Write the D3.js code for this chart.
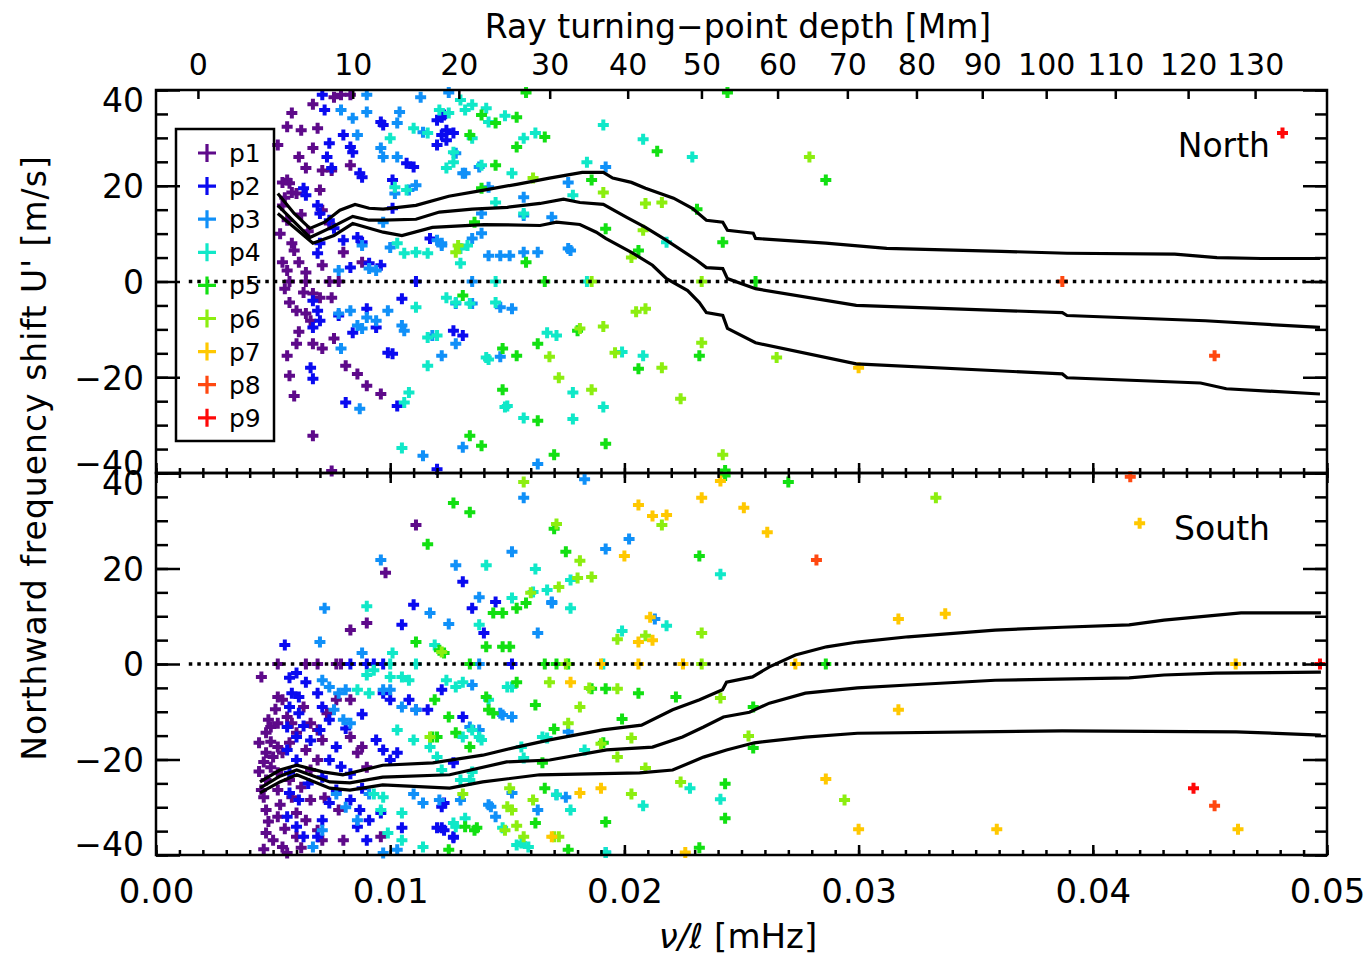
<!DOCTYPE html>
<html>
<head>
<meta charset="utf-8">
<title>Northward frequency shift</title>
<script src="https://d3js.org/d3.v7.min.js"></script>
<style>
  body { margin: 0; background: #fff; }
  text { font-family: "DejaVu Sans", sans-serif; fill: #000; }
</style>
</head>
<body>
<svg id="chart" width="1365" height="957"></svg>
<script>
// mode names and colours (IDL rainbow-ish)
var modes = ["p1", "p2", "p3", "p4", "p5", "p6", "p7", "p8", "p9"];
var modeColors = ["#5e0a8a", "#0a0af0", "#1090f8", "#10e8c8", "#12e012", "#8cee10", "#ffc800", "#ff4810", "#ff0808"];

// bottom axis (nu/l in mHz) and y axis ticks
var nuMajor = [0, 0.01, 0.02, 0.03, 0.04, 0.05];
var uMajor = [-40, -20, 0, 20, 40];

// top axis: turning-point depth labels and where they sit on nu/l
var depthTicks = [0, 10, 20, 30, 40, 50, 60, 70, 80, 90, 100, 110, 120, 130];
var depthTickNuL = [0.00179, 0.00840, 0.01293, 0.01681, 0.02014, 0.02329, 0.02654, 0.02952, 0.03247, 0.03528, 0.03801, 0.04096, 0.04407, 0.04693];

// ---------- North points [nu/l, U'] ----------
var northP1 = [[0.0079,39],[0.0083,39],[0.0076,38.5],[0.0067,37],[0.0058,35.2],[0.0056,32.3],[0.0062,31.6],[0.0069,32],[0.0052,28.5],[0.0067,27.9],[0.0061,26],[0.0064,23.7],[0.0071,23.2],[0.0075,23.2],[0.0083,24.3],[0.0056,21.2],[0.0057,20.5],[0.0054,20.7],[0.0058,18.6],[0.0060,18.4],[0.0070,19.1],[0.0054,15.9],[0.0071,14.9],[0.0074,12.1],[0.0056,12.8],[0.0058,8],[0.0054,4],[0.0056,2.3],[0.0061,4],[0.0064,1.9],[0.0071,3.4],[0.0080,6.1],[0.0088,4],[0.0057,0],[0.0064,0],[0.0074,0],[0.0078,0],[0.0063,-2.3],[0.0067,-2.5],[0.0070,-3.4],[0.0075,-3.4],[0.0057,-4.4],[0.0060,-6.1],[0.0064,-6.7],[0.0066,-8.2],[0.0076,-11.9],[0.0060,-13],[0.0067,-13],[0.0071,-14],[0.0056,-15.5],[0.0057,-19.7],[0.0081,-17.6],[0.0086,-19.3],[0.0090,-21.8],[0.0096,-23.5],[0.0059,-23.9],[0.0067,-32.2],[0.0075,-39.6],[0.0055,17.5],[0.0053,10],[0.0059,6.5],[0.0062,14],[0.0065,10.5],[0.0055,-1.5],[0.0061,-10.5]];
var northP2 = [[0.0071,39],[0.0072,35.8],[0.0063,19.5],[0.0064,18],[0.0074,28.9],[0.0073,26],[0.0075,23.7],[0.0080,30.6],[0.0083,28.1],[0.0084,27],[0.0087,22.6],[0.0088,21.8],[0.0096,33.3],[0.0097,32.7],[0.0101,21.2],[0.0101,15.3],[0.0107,24.7],[0.0110,23.9],[0.0120,33.7],[0.0122,34.3],[0.0124,31.6],[0.0127,31],[0.0120,28.5],[0.0069,15.9],[0.0070,14.2],[0.0074,12.8],[0.0076,11.1],[0.0070,8],[0.0069,5.9],[0.0080,8.6],[0.0083,2.9],[0.0086,9.2],[0.0088,8.2],[0.0091,3.8],[0.0096,3.4],[0.0067,-4],[0.0069,-6.1],[0.0070,-8.2],[0.0067,-9.6],[0.0078,-7.1],[0.0084,-10.7],[0.0090,-5.7],[0.0094,-9.6],[0.0105,-3.6],[0.0099,-14.9],[0.0101,-15.1],[0.0066,-18],[0.0067,-20.3],[0.0081,-25.3],[0.0103,-26],[0.0127,-10.3],[0.0131,-11.3],[0.0111,0],[0.0120,-39.2],[0.0117,9],[0.0123,34.8],[0.0122,30.6],[0.0124,29.5]];
var northP3 = [[0.0079,35.8],[0.0090,39],[0.0090,35.4],[0.0084,34.1],[0.0086,30.6],[0.0103,33.1],[0.0104,35.4],[0.0113,38.5],[0.0114,31.2],[0.0125,39.5],[0.0096,27.9],[0.0097,26],[0.0103,26],[0.0102,18.4],[0.0108,19.1],[0.0111,20.1],[0.0128,26.8],[0.0131,22.6],[0.0097,12.4],[0.0100,7.1],[0.0088,7.5],[0.0091,2.7],[0.0094,2.3],[0.0078,2.3],[0.0120,8.6],[0.0122,8],[0.0142,5.4],[0.0147,5.4],[0.0151,5.4],[0.0157,6.1],[0.0163,6.1],[0.0139,14.2],[0.0157,13.8],[0.0169,13.4],[0.0177,6.5],[0.0078,-6.7],[0.0083,-6.1],[0.0086,-9.2],[0.0088,-9.8],[0.0090,-7.5],[0.0094,-8.2],[0.0099,-6.1],[0.0105,-9.2],[0.0106,-10.3],[0.0079,-14],[0.0118,-11.3],[0.0122,-15.5],[0.0128,-13],[0.0147,-5.4],[0.0152,-5.7],[0.0147,-15.7],[0.0087,-26.6],[0.0114,-36.4],[0.0131,-34.6],[0.0132,22.6],[0.0138,23.9],[0.0142,19.7],[0.0157,17.6],[0.0176,20.7],[0.0192,23.9],[0.0135,9],[0.0139,10.1],[0.0122,7.5],[0.0176,6.9],[0.0128,-4.6],[0.0135,-4.6],[0.0163,-38.1],[0.0135,0]];
var northP4 = [[0.0100,29.9],[0.0110,32],[0.0116,31],[0.0121,35.8],[0.0125,35.2],[0.0130,37.9],[0.0135,36.9],[0.0124,23.7],[0.0127,24.9],[0.0127,27],[0.0103,8],[0.0106,5.9],[0.0102,19.7],[0.0107,19.1],[0.0111,6.1],[0.0116,5.9],[0.0130,6.9],[0.0133,7.5],[0.0130,3.8],[0.0124,-3.4],[0.0128,-4.4],[0.0134,-4.6],[0.0111,-5.4],[0.0145,-4.4],[0.0139,24.3],[0.0152,22.6],[0.0167,-10.7],[0.0171,-11.3],[0.0178,-23.2],[0.0178,-28.7],[0.0116,-11.7],[0.0120,-11.3],[0.0141,-15.9],[0.0116,-17.6],[0.0150,-26],[0.0157,-28.5],[0.0105,-34.8],[0.0108,-23.2],[0.0106,-25.3],[0.0184,24.9],[0.0178,18],[0.0132,35.8],[0.0141,36.2],[0.0142,33.3],[0.0149,34.6],[0.0135,29.9],[0.0157,29.9],[0.0162,31],[0.0191,32.7],[0.0208,29.7],[0.0229,26],[0.0145,16.5],[0.0157,14.2],[0.0142,-16.3],[0.0199,-14.7],[0.0208,-15.5],[0.0191,-26.2],[0.0149,-26.2],[0.0218,8.2],[0.0184,0],[0.0145,0]];
var northP5 = [[0.0158,39.5],[0.0139,34.8],[0.0145,33.1],[0.0154,34.3],[0.0134,30.6],[0.0145,24.3],[0.0166,30.2],[0.0154,28.1],[0.0139,19.5],[0.0186,21.2],[0.0158,4],[0.0131,-2.9],[0.0180,-10.3],[0.0163,-13],[0.0148,-14],[0.0154,-15.5],[0.0148,-22.6],[0.0134,-32.2],[0.0139,-34.3],[0.0163,-29.1],[0.0170,-36.2],[0.0214,27.2],[0.0192,11],[0.0206,6.5],[0.0242,8.2],[0.0231,15.1],[0.0232,-15.5],[0.0206,-18.2],[0.0192,-33.9],[0.0244,39.5],[0.0243,-39.5],[0.0166,0],[0.0256,0],[0.0286,21.2],[0.0136,12.4]];
var northP6 = [[0.0161,21.6],[0.0128,6.1],[0.0168,-15.7],[0.0172,-20.1],[0.0186,-22.6],[0.0191,18.6],[0.0209,16.3],[0.0216,16.5],[0.0129,7.5],[0.0203,5],[0.0209,-5.7],[0.0205,-6.3],[0.0191,-9.4],[0.0233,-12.8],[0.0196,-14.9],[0.0216,-18],[0.0224,-24.5],[0.0242,-36.2],[0.0186,0],[0.0233,0],[0.0208,10.7],[0.0279,26],[0.0265,-15.9],[0.0181,-9.8]];
var northP7 = [[0.0300,-18]];
var northP8 = [[0.0387,0],[0.0452,-15.5]];
var northP9 = [[0.0481,31]];

// ---------- South points [nu/l, U'] ----------
var southP1 = [[0.0111,29.1],[0.0098,19.1],[0.0090,8.6],[0.0083,7.1],[0.0045,-2.7],[0.0052,0],[0.0064,0],[0.0069,0],[0.0077,0],[0.0079,0],[0.0052,-6.9],[0.0054,-7.5],[0.0063,-9],[0.0048,-11.7],[0.0049,-13.2],[0.0052,-12.4],[0.0047,-14.4],[0.0049,-16.3],[0.0052,-17.4],[0.0047,-18.6],[0.0046,-20.5],[0.0049,-21.6],[0.0052,-22.8],[0.0047,-24.3],[0.0045,-26.4],[0.0046,-27.9],[0.0056,-11.1],[0.0058,-12.4],[0.0060,-14.4],[0.0057,-16.5],[0.0054,-18.6],[0.0066,-12.4],[0.0069,-13.8],[0.0071,-15.9],[0.0064,-18],[0.0069,-20.1],[0.0066,-22.2],[0.0047,-30.6],[0.0052,-32],[0.0047,-35.4],[0.0050,-36.9],[0.0054,-38.3],[0.0056,-39.6],[0.0060,-31.2],[0.0064,-32.7],[0.0060,-36.2],[0.0069,-34.8],[0.0071,-36.9],[0.0078,-30.6],[0.0080,-36.9],[0.0083,-15.3],[0.0088,-17.4],[0.0086,-18.6],[0.0090,-21.6],[0.0077,-7.5],[0.0083,-7.5],[0.0096,-36.2],[0.0052,-26.4],[0.0058,-27.9],[0.0057,-24.3],[0.0062,-25.8],[0.0073,-10.3],[0.0044,-22.5],[0.0050,-19.5],[0.0053,-29.5],[0.0048,-33],[0.0055,-34.5],[0.0062,-38.5],[0.0044,-16.5],[0.0051,-9.5],[0.0066,-28.5],[0.0072,-28],[0.0046,-38.8]];
var southP2 = [[0.0055,4],[0.0110,12.4],[0.0105,8.2],[0.0131,17.2],[0.0135,11.7],[0.0140,6.5],[0.0145,13],[0.0057,-2.9],[0.0060,-1.9],[0.0064,-3.8],[0.0058,-6.1],[0.0061,-6.9],[0.0057,-9],[0.0061,-10.3],[0.0056,-13.2],[0.0060,-15.3],[0.0056,-18],[0.0060,-20.1],[0.0057,-22.8],[0.0057,-27],[0.0061,-28.5],[0.0056,-32],[0.0060,-34.1],[0.0063,-36.2],[0.0069,-6.1],[0.0071,-9],[0.0074,-11.7],[0.0070,-13.8],[0.0077,-17.4],[0.0074,-20.1],[0.0071,-23.7],[0.0077,-26.4],[0.0074,-29.1],[0.0071,-32.7],[0.0069,-36.2],[0.0083,-28.5],[0.0087,-30.6],[0.0086,-34.1],[0.0090,-36.9],[0.0094,-15.9],[0.0097,-18],[0.0100,-20.1],[0.0103,-18.6],[0.0097,-6.1],[0.0100,-7.5],[0.0108,-7.5],[0.0111,-9.6],[0.0116,-9.6],[0.0105,-34.3],[0.0120,-34.3],[0.0122,-34.3],[0.0127,-36.2],[0.0122,-29.9],[0.0088,-26],[0.0096,-31.2],[0.0091,-32.7],[0.0122,-5.4],[0.0083,0],[0.0090,0],[0.0093,0],[0.0097,0],[0.0152,0],[0.0131,-11.1],[0.0127,-20.7],[0.0123,-29.1],[0.0123,-34.8],[0.0127,-36.4],[0.0063,-13],[0.0066,-16],[0.0079,-21.5],[0.0083,-23],[0.0065,-25],[0.0081,-13.5],[0.0088,-10.5]];
var southP3 = [[0.0096,21.8],[0.0072,11.7],[0.0070,4.6],[0.0088,2.3],[0.0128,20.7],[0.0117,10.7],[0.0125,8.4],[0.0138,14],[0.0152,23.5],[0.0169,13],[0.0163,6.5],[0.0157,34.8],[0.0183,38.7],[0.0148,-10.7],[0.0152,-11.1],[0.0071,-3.4],[0.0074,-4.8],[0.0078,-6.1],[0.0081,-5.4],[0.0076,-9.6],[0.0080,-11.7],[0.0083,-12.4],[0.0097,-5.4],[0.0100,-5.4],[0.0105,-9],[0.0111,-9.6],[0.0134,-13.2],[0.0138,-13.8],[0.0130,-28.5],[0.0143,-29.9],[0.0145,-32],[0.0121,-28.5],[0.0175,-27.9],[0.0171,-27.4],[0.0097,-39.6],[0.0103,-38.9],[0.0077,-27.2],[0.0081,-30],[0.0086,-32.7],[0.0091,-27.2],[0.0110,-27.2],[0.0114,-29.1],[0.0067,-38.3],[0.0071,-34.8],[0.0192,24.1],[0.0202,26.2],[0.0213,9.4],[0.0135,-4.4],[0.0147,-10.3],[0.0176,-14.2],[0.0152,-27],[0.0142,-29.5],[0.0163,-30.6],[0.0192,-39.5],[0.0169,12.8],[0.0138,0]];
var southP4 = [[0.0090,12.1],[0.0101,2.3],[0.0141,20.7],[0.0162,19.9],[0.0152,13.8],[0.0161,15.1],[0.0167,15.5],[0.0177,11.7],[0.0138,8.2],[0.0119,4],[0.0090,-2.3],[0.0093,-1.3],[0.0100,-2.7],[0.0105,-2.7],[0.0108,-3.4],[0.0086,-5.4],[0.0091,-6.1],[0.0124,-3.4],[0.0128,-4.8],[0.0131,-3.8],[0.0150,-4.8],[0.0152,-4.8],[0.0103,-13.8],[0.0110,-15.9],[0.0117,-17.4],[0.0120,-19.5],[0.0122,-22.2],[0.0131,-15.3],[0.0138,-15.3],[0.0139,-15.9],[0.0130,-24.3],[0.0134,-24.3],[0.0156,-17.4],[0.0165,-15.3],[0.0093,-27.2],[0.0097,-27.9],[0.0096,-30.6],[0.0099,-35.4],[0.0105,-31.2],[0.0105,-36.9],[0.0114,-38.3],[0.0128,-34.1],[0.0148,-34.3],[0.0156,-37.5],[0.0159,-38.3],[0.0177,-30.6],[0.0100,0],[0.0111,0],[0.0177,17.6],[0.0199,6.9],[0.0218,8],[0.0241,18.8],[0.0142,-7.5],[0.0135,-13.8],[0.0167,-15.5],[0.0183,-18],[0.0157,-19.7],[0.0135,-22.6],[0.0171,-27.4],[0.0208,-29.7],[0.0228,-26],[0.0241,-28.3],[0.0132,-32.3],[0.0154,-37.9],[0.0127,-33.3],[0.0191,0],[0.0192,-39.5]];
var southP5 = [[0.0127,33.7],[0.0134,31.8],[0.0116,25.1],[0.0175,23.5],[0.0111,4.6],[0.0121,2.9],[0.0123,2.3],[0.0144,10.7],[0.0148,10.7],[0.0154,11.7],[0.0158,12.8],[0.0141,3.6],[0.0148,3.6],[0.0151,3.6],[0.0141,-6.9],[0.0142,-9.6],[0.0144,-10.3],[0.0119,-7.5],[0.0125,-11.1],[0.0128,-14.4],[0.0118,-15.3],[0.0120,-15.3],[0.0154,-3.8],[0.0162,-8.6],[0.0170,-13.6],[0.0166,-26],[0.0162,-33.3],[0.0132,-34.1],[0.0137,-34.3],[0.0136,-34.8],[0.0176,-38.9],[0.0134,0],[0.0166,0],[0.0171,0],[0.0176,0],[0.0134,-17.4],[0.0165,-20.7],[0.0125,-38.9],[0.0170,28.3],[0.0232,22.6],[0.0186,-5.2],[0.0192,-5.2],[0.0206,-6.1],[0.0222,-6.9],[0.0255,-9],[0.0199,-11.5],[0.0255,-17.6],[0.0243,-25.1],[0.0192,-33.1],[0.0243,-32.3],[0.0232,-38.5],[0.0243,39.5],[0.0270,38.1],[0.0286,0],[0.0191,-16.5]];
var southP6 = [[0.0157,38.1],[0.0171,29.3],[0.0181,21.6],[0.0186,18.2],[0.0180,18],[0.0172,16.1],[0.0160,14.9],[0.0122,2.5],[0.0168,-3.8],[0.0181,-9],[0.0185,-5],[0.0176,-12.4],[0.0117,-15.3],[0.0151,-26],[0.0150,-29.9],[0.0152,-30.6],[0.0157,-36.2],[0.0170,-36.2],[0.0154,-33.9],[0.0149,-34.8],[0.0131,-27.2],[0.0175,0],[0.0233,0],[0.0216,29.1],[0.0209,5.9],[0.0197,5.2],[0.0197,-5.2],[0.0233,6.5],[0.0241,-7.1],[0.0253,-15.1],[0.0197,-19.5],[0.0209,-21.8],[0.0224,-24.7],[0.0203,-27.2],[0.0161,-28.5],[0.0172,-36.2],[0.0333,34.8],[0.0294,-28.5],[0.0203,-15.5],[0.0190,-16.7]];
var southP7 = [[0.0206,33.3],[0.0212,31],[0.0218,31.2],[0.0233,34.8],[0.0251,32.7],[0.0241,38.3],[0.0261,27.6],[0.0200,22.6],[0.0211,9.8],[0.0206,4.6],[0.0212,5],[0.0190,0],[0.0206,0],[0.0225,0],[0.0273,0],[0.0461,0],[0.0177,-3.8],[0.0190,-26],[0.0181,-27],[0.0169,-36.2],[0.0226,-39.5],[0.0317,9.4],[0.0337,10.5],[0.0420,29.5],[0.0317,-9.6],[0.0286,-24.1],[0.0300,-34.6],[0.0359,-34.6],[0.0462,-34.6]];
var southP8 = [[0.0416,39.2],[0.0282,21.8],[0.0452,-29.7]];
var southP9 = [[0.0443,-26],[0.0497,0]];

// ---------- running curves [nu/l, U'] ----------
var northUpper = [[0.0052,18.4],[0.0059,14.2],[0.00657,11.1],[0.0072,12.4],[0.00785,14.9],[0.0085,16.1],[0.0091,15.3],[0.0097,15.1],[0.0111,15.9],[0.0125,17.8],[0.0140,19.1],[0.0154,20.3],[0.0168,21.6],[0.0182,22.8],[0.0191,22.8],[0.0195,21.6],[0.0203,20.7],[0.0209,19.5],[0.0221,17.4],[0.0229,15.3],[0.0235,12.8],[0.0242,12.4],[0.0244,10.7],[0.0255,10.1],[0.0256,9.0],[0.0286,8.0],[0.0312,6.9],[0.0361,6.3],[0.0389,5.9],[0.0435,5.7],[0.0453,5.0],[0.0472,4.8],[0.0497,4.8]];
var northMiddle = [[0.0052,15.9],[0.00657,9.2],[0.0074,11.1],[0.0084,13.6],[0.0091,12.8],[0.0097,12.8],[0.0111,13.0],[0.0121,14.5],[0.0135,15.1],[0.0150,15.5],[0.0164,16.3],[0.0174,17.2],[0.0181,16.5],[0.0191,16.1],[0.0201,13.4],[0.0209,11.3],[0.0218,8.6],[0.0231,4.4],[0.0235,2.9],[0.0242,2.7],[0.0244,0.6],[0.0256,-1.5],[0.0299,-5.0],[0.0387,-6.5],[0.0389,-7.1],[0.0448,-8.2],[0.0497,-9.6]];
var northLower = [[0.0052,14.2],[0.0067,8.0],[0.0076,9.6],[0.0084,12.1],[0.0097,10.3],[0.0105,9.6],[0.0118,11.3],[0.0140,11.9],[0.0164,11.7],[0.0171,12.4],[0.0181,11.9],[0.0188,10.3],[0.0192,9.0],[0.0203,6.1],[0.0212,3.4],[0.0218,0.6],[0.0227,-1.9],[0.0232,-4.4],[0.0235,-6.5],[0.0242,-7.1],[0.0244,-9.8],[0.0256,-12.8],[0.0299,-17.2],[0.0387,-19.3],[0.0389,-20.1],[0.0446,-21.2],[0.0457,-22.4],[0.0497,-23.5]];
var southUpper = [[0.00444,-24.7],[0.00529,-22.2],[0.00601,-21.2],[0.00712,-22.6],[0.00798,-23.2],[0.00968,-21.2],[0.01182,-20.7],[0.01395,-19.1],[0.0154,-17.4],[0.01681,-15.9],[0.01907,-13.8],[0.02073,-12.8],[0.02206,-9.6],[0.02321,-7.5],[0.02419,-5.4],[0.02436,-3.8],[0.02547,-2.7],[0.02619,-0.6],[0.0273,1.9],[0.02863,3.6],[0.02995,4.6],[0.03212,5.7],[0.03583,7.1],[0.03869,7.7],[0.04155,8.2],[0.04304,9.2],[0.04633,10.7],[0.04974,10.7]];
var southMiddle = [[0.00444,-26.0],[0.00529,-23.5],[0.00601,-22.2],[0.00742,-24.7],[0.00828,-24.9],[0.00968,-23.7],[0.01254,-23.2],[0.01497,-20.5],[0.01681,-20.1],[0.01924,-18.0],[0.0212,-17.4],[0.02248,-15.3],[0.02338,-13.2],[0.02423,-11.1],[0.02534,-10.1],[0.02619,-8.2],[0.02773,-6.1],[0.02995,-5.0],[0.03212,-4.4],[0.03583,-3.4],[0.04155,-2.9],[0.04304,-2.3],[0.04526,-1.9],[0.04974,-1.7]];
var southLower = [[0.00444,-27.0],[0.00529,-24.7],[0.00601,-23.2],[0.00742,-26.0],[0.00828,-26.4],[0.00968,-25.3],[0.01254,-26.0],[0.01395,-24.7],[0.01638,-23.2],[0.02065,-22.8],[0.02206,-22.2],[0.02338,-19.5],[0.02436,-18.0],[0.02555,-16.5],[0.02773,-15.3],[0.02995,-14.5],[0.03869,-14.0],[0.04612,-14.2],[0.04974,-14.9]];

// dotted zero reference spans this nu/l range
var zeroLineRange = [0.0014, 0.0498];

// ---------- layout ----------
var svg = d3.select("#chart");
var left = 156, right = 1327;
var x = d3.scaleLinear().domain([0, 0.05]).range([left, right]);

var panels = [
  { name: "North", top: 90, bottom: 473,
    points: [northP1, northP2, northP3, northP4, northP5, northP6, northP7, northP8, northP9],
    curves: [northUpper, northMiddle, northLower], labelX: 1270, labelY: 157 },
  { name: "South", top: 473, bottom: 855,
    points: [southP1, southP2, southP3, southP4, southP5, southP6, southP7, southP8, southP9],
    curves: [southUpper, southMiddle, southLower], labelX: 1270, labelY: 540 }
];

var plus = "M-5.5,0H5.5M0,-5.5V5.5";
var nuMinor = d3.range(0, 0.0505, 0.001);
var uMinor = d3.range(-40, 41, 5);

panels.forEach(function(p, pi) {
  var y = d3.scaleLinear().domain([-40, 40]).range([p.bottom, p.top]);
  var g = svg.append("g");

  // scatter points
  p.points.forEach(function(pts, mi) {
    g.append("g").selectAll("path")
      .data(pts)
      .enter().append("path")
        .attr("d", plus)
        .attr("transform", function(d) { return "translate(" + x(d[0]) + "," + y(d[1]) + ")"; })
        .attr("stroke", modeColors[mi])
        .attr("stroke-width", 4)
        .attr("fill", "none");
  });

  // dotted zero line
  g.append("line")
    .attr("x1", x(zeroLineRange[0])).attr("x2", x(zeroLineRange[1]))
    .attr("y1", y(0)).attr("y2", y(0))
    .attr("stroke", "#000").attr("stroke-width", 3.5)
    .attr("stroke-dasharray", "3.5,5");

  // running curves
  var line = d3.line()
    .x(function(d) { return x(d[0]); })
    .y(function(d) { return y(d[1]); });
  p.curves.forEach(function(c) {
    g.append("path").datum(c)
      .attr("d", line)
      .attr("fill", "none")
      .attr("stroke", "#000")
      .attr("stroke-width", 3.2);
  });

  // frame
  g.append("rect")
    .attr("x", left).attr("y", p.top)
    .attr("width", right - left).attr("height", p.bottom - p.top)
    .attr("fill", "none").attr("stroke", "#000").attr("stroke-width", 2.5);

  // x ticks at bottom of panel (pointing up)
  [[nuMinor, 5], [nuMajor, 10]].forEach(function(t) {
    g.append("g").attr("transform", "translate(0," + p.bottom + ")")
      .call(d3.axisTop(x).tickValues(t[0]).tickSize(t[1]).tickFormat(""))
      .call(function(a) { a.select(".domain").remove(); a.selectAll("line").attr("stroke-width", 2.5); });
  });
  // x ticks on top edge: nu/l for South, depth for North
  if (pi === 1) {
    [[nuMinor, 5], [nuMajor, 10]].forEach(function(t) {
      g.append("g").attr("transform", "translate(0," + p.top + ")")
        .call(d3.axisBottom(x).tickValues(t[0]).tickSize(t[1]).tickFormat(""))
        .call(function(a) { a.select(".domain").remove(); a.selectAll("line").attr("stroke-width", 2.5); });
    });
  } else {
    g.append("g").attr("transform", "translate(0," + p.top + ")")
      .call(d3.axisBottom(x).tickValues(depthTickNuL).tickSize(9).tickFormat(""))
      .call(function(a) { a.select(".domain").remove(); a.selectAll("line").attr("stroke-width", 2.5); });
    var depthAxis = g.append("g").attr("transform", "translate(0," + p.top + ")")
      .call(d3.axisTop(x).tickValues(depthTickNuL).tickSize(0).tickPadding(15)
        .tickFormat(function(d, i) { return depthTicks[i]; }));
    depthAxis.select(".domain").remove();
    depthAxis.attr("font-family", null).attr("font-size", null)
      .selectAll("text").style("font-size", "30px");
  }

  // y ticks both sides (pointing inward)
  [[uMinor, 12], [uMajor, 24]].forEach(function(t) {
    g.append("g").attr("transform", "translate(" + left + ",0)")
      .call(d3.axisRight(y).tickValues(t[0]).tickSize(t[1]).tickFormat(""))
      .call(function(a) { a.select(".domain").remove(); a.selectAll("line").attr("stroke-width", 2.5); });
    g.append("g").attr("transform", "translate(" + right + ",0)")
      .call(d3.axisLeft(y).tickValues(t[0]).tickSize(t[1]).tickFormat(""))
      .call(function(a) { a.select(".domain").remove(); a.selectAll("line").attr("stroke-width", 2.5); });
  });

  // y tick labels (end labels nudged inward as in the original)
  var yLab = g.append("g").attr("transform", "translate(" + left + ",0)")
    .call(d3.axisLeft(y).tickValues(uMajor).tickSize(0).tickPadding(12).tickFormat(d3.format("d")));
  yLab.select(".domain").remove();
  yLab.attr("font-family", null).attr("font-size", null);
  yLab.selectAll("text").style("font-size", "33px")
    .attr("dy", function(d) {
      if (d === 40) return pi === 0 ? "0.66em" : "0.66em";
      if (d === -40) return pi === 0 ? "0.05em" : "0.0em";
      return "0.36em";
    });

  // panel name
  g.append("text")
    .attr("x", p.labelX).attr("y", p.labelY)
    .attr("text-anchor", "end")
    .style("font-size", "33px")
    .text(p.name);
});

// bottom tick labels
var xLab = svg.append("g").attr("transform", "translate(0," + panels[1].bottom + ")")
  .call(d3.axisBottom(x).tickValues(nuMajor).tickSize(0).tickPadding(24).tickFormat(d3.format(".2f")));
xLab.select(".domain").remove();
xLab.attr("font-family", null).attr("font-size", null);
xLab.selectAll("text").style("font-size", "34px");

// axis titles
svg.append("text")
  .attr("x", 738).attr("y", 38)
  .attr("text-anchor", "middle")
  .style("font-size", "33px")
  .text("Ray turning\u2212point depth [Mm]");

svg.append("text")
  .attr("x", 738).attr("y", 948)
  .attr("text-anchor", "middle")
  .style("font-size", "34px")
  .html("<tspan font-style='italic'>\u03bd/\u2113</tspan> [mHz]");

svg.append("text")
  .attr("transform", "translate(46,458) rotate(-90)")
  .attr("text-anchor", "middle")
  .style("font-size", "33px")
  .style("letter-spacing", "1px")
  .text("Northward frequency shift U' [m/s]");

// legend
var legend = svg.append("g");
legend.append("rect")
  .attr("x", 176).attr("y", 129).attr("width", 98).attr("height", 312)
  .attr("fill", "none").attr("stroke", "#000").attr("stroke-width", 2.5);
var item = legend.selectAll("g.item")
  .data(modes)
  .enter().append("g")
    .attr("class", "item")
    .attr("transform", function(d, i) { return "translate(207," + (153 + i * 33.1) + ")"; });
item.append("path")
  .attr("d", "M-9,0H9M0,-9V9")
  .attr("stroke", function(d, i) { return modeColors[i]; })
  .attr("stroke-width", 3.2);
item.append("text")
  .attr("x", 22).attr("dy", "0.36em")
  .style("font-size", "25px")
  .text(function(d) { return d; });
</script>
</body>
</html>
